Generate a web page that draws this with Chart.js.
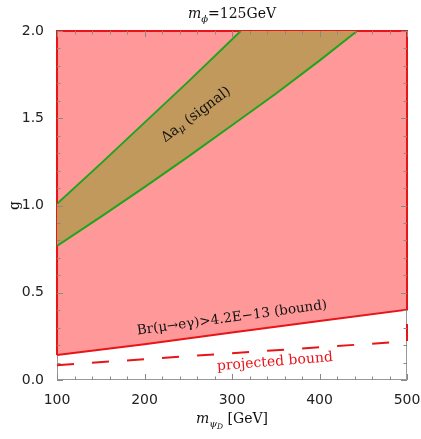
<!DOCTYPE html>
<html><head><meta charset="utf-8">
<script src="https://cdn.jsdelivr.net/npm/chart.js@4"></script>
<style>html,body{margin:0;padding:0;background:#fff}</style>
</head><body>
<canvas id="c" width="421" height="439" style="width:421px;height:439px;display:block"></canvas>
<script>
// ---- data ----
const xTicks = [100, 200, 300, 400, 500];
const yTicks = [0.0, 0.5, 1.0, 1.5, 2.0];
const boundX = [100, 200, 300, 400, 500];
const boundG = [0.143, 0.205, 0.272, 0.338, 0.403];
const projX = [100, 500];
const projG = [0.085, 0.222];
const sigUpX = [100, 150, 200, 250, 310];
const sigUpG = [1.01, 1.24, 1.475, 1.71, 2.0];
const sigLoX = [100, 150, 200, 250, 300, 350, 400, 443];
const sigLoG = [0.768, 0.935, 1.105, 1.28, 1.46, 1.64, 1.83, 2.0];
const xMin = 100, xMax = 500, yMin = 0, yMax = 2;

const RED = 'rgb(232,20,24)';
const PINK = 'rgb(255,153,153)';
const BROWN = 'rgb(194,153,93)';
const GREEN = 'rgb(30,165,30)';
const AXIS = '#999';

const pts = (xs, ys) => xs.map((x, i) => ({x, y: ys[i]}));

const boundPoly = pts(boundX, boundG).concat([{x: xMax, y: yMax}, {x: xMin, y: yMax}, {x: boundX[0], y: boundG[0]}]);
const bandPoly = pts(sigLoX, sigLoG).concat(pts(sigUpX, sigUpG).reverse(), [{x: sigLoX[0], y: sigLoG[0]}]);
const projLine = pts(projX, projG).concat([{x: xMax, y: boundG[boundG.length - 1]}]);

function rich(ctx, parts, x, y, align) {
  let w = 0;
  parts.forEach(p => { ctx.font = p.font; p.w = ctx.measureText(p.t).width; w += p.w; });
  let cx = align === 'center' ? x - w / 2 : x;
  parts.forEach(p => { ctx.font = p.font; ctx.fillText(p.t, cx, y + (p.dy || 0)); cx += p.w; });
}

const SERIF = '"DejaVu Serif", "Liberation Serif", serif';

const decor = {
  id: 'decor',
  beforeDatasetsDraw(chart) {
    const {ctx, chartArea: a} = chart;
    ctx.save();
    ctx.strokeStyle = AXIS; ctx.lineWidth = 1;
    ctx.strokeRect(a.left + 0.5, a.top + 0.5, a.right - a.left - 1, a.bottom - a.top - 1);
    ctx.restore();
  },
  afterDatasetsDraw(chart) {
    const {ctx, chartArea: a, scales: {x, y}} = chart;
    ctx.save();
    ctx.strokeStyle = '#888'; ctx.lineWidth = 1;
    ctx.beginPath();
    for (let v = xMin; v <= xMax + 1e-9; v += 20) {
      const px = Math.round(x.getPixelForValue(v)) + 0.5;
      const L = xTicks.includes(v) ? 6 : 3.5;
      ctx.moveTo(px, a.bottom); ctx.lineTo(px, a.bottom - L);
      ctx.moveTo(px, a.top); ctx.lineTo(px, a.top + L);
    }
    for (let k = 0; k <= 20; k++) {
      const v = k / 10;
      const py = Math.round(y.getPixelForValue(v)) + 0.5;
      const L = (k % 5 === 0) ? 6 : 3.5;
      ctx.moveTo(a.left, py); ctx.lineTo(a.left + L, py);
      ctx.moveTo(a.right, py); ctx.lineTo(a.right - L, py);
    }
    ctx.stroke();

    ctx.fillStyle = '#111';
    ctx.textBaseline = 'alphabetic';
    const cx = (a.left + a.right) / 2;
    rich(ctx, [
      {t: 'm', font: 'italic 14px ' + SERIF},
      {t: 'ϕ', font: 'italic 10px ' + SERIF, dy: 4},
      {t: '=125GeV', font: '14px ' + SERIF}
    ], cx, 17.5, 'center');
    rich(ctx, [
      {t: 'm', font: 'italic 14px ' + SERIF},
      {t: 'ψ', font: 'italic 10px ' + SERIF, dy: 3.5},
      {t: 'D', font: 'italic 7.5px ' + SERIF, dy: 6},
      {t: ' [GeV]', font: '14px ' + SERIF}
    ], cx, 423, 'center');
    ctx.save();
    ctx.translate(17, (a.top + a.bottom) / 2);
    ctx.rotate(-Math.PI / 2);
    ctx.textBaseline = 'middle';
    rich(ctx, [{t: 'g', font: '14px ' + SERIF}], 0, -2, 'center');
    ctx.restore();

    const ann = (gx, gy, deg, parts, color) => {
      ctx.save();
      ctx.translate(x.getPixelForValue(gx), y.getPixelForValue(gy));
      ctx.rotate(deg * Math.PI / 180);
      ctx.textBaseline = 'middle';
      ctx.fillStyle = color;
      rich(ctx, parts, 0, 0, 'center');
      ctx.restore();
    };
    ann(259, 1.52, -37, [
      {t: 'Δa', font: '14px ' + SERIF},
      {t: 'μ', font: 'italic 10px ' + SERIF, dy: 3},
      {t: ' (signal)', font: '14px ' + SERIF}
    ], '#111');
    ann(300, 0.355, -7.8, [{t: 'Br(μ→eγ)>4.2E−13 (bound)', font: '13.5px ' + SERIF}], '#111');
    ann(349, 0.103, -4.5, [{t: 'projected bound', font: '14px ' + SERIF}], RED);
    ctx.restore();
  }
};

new Chart(document.getElementById('c'), {
  type: 'scatter',
  data: {
    datasets: [
      {data: projLine, showLine: true, borderColor: RED, borderWidth: 2, borderDash: [17, 18.1],
       pointRadius: 0, fill: false, clip: 3, order: 0},
      {data: pts(sigUpX, sigUpG), showLine: true, borderColor: GREEN, borderWidth: 2, pointRadius: 0, fill: false, order: 1},
      {data: pts(sigLoX, sigLoG), showLine: true, borderColor: GREEN, borderWidth: 2, pointRadius: 0, fill: false, order: 2},
      {data: bandPoly, showLine: true, borderWidth: 0, borderColor: 'rgba(0,0,0,0)', backgroundColor: BROWN,
       pointRadius: 0, fill: 'shape', order: 3},
      {data: boundPoly, showLine: true, borderColor: RED, borderWidth: 2, backgroundColor: PINK,
       pointRadius: 0, fill: 'shape', clip: 3, order: 4}
    ]
  },
  options: {
    responsive: false,
    animation: false,
    devicePixelRatio: 1,
    layout: {padding: {left: 0, top: 31, right: 14, bottom: 0}},
    plugins: {legend: {display: false}, tooltip: {enabled: false}, title: {display: false}},
    elements: {line: {tension: 0}},
    scales: {
      x: {
        type: 'linear', min: xMin, max: xMax,
        afterBuildTicks: s => { s.ticks = xTicks.map(v => ({value: v})); },
        afterFit: s => { s.height = 59; s.paddingLeft = 0; s.paddingRight = 0; },
        grid: {display: false}, border: {display: false},
        ticks: {font: {family: '"DejaVu Sans", sans-serif', size: 14}, color: '#222', padding: 4, maxRotation: 0}
      },
      y: {
        type: 'linear', min: yMin, max: yMax,
        afterBuildTicks: s => { s.ticks = yTicks.map(v => ({value: v})); },
        afterFit: s => { s.width = 57; s.paddingTop = 0; s.paddingBottom = 0; },
        grid: {display: false}, border: {display: false},
        ticks: {font: {family: '"DejaVu Sans", sans-serif', size: 14}, color: '#222', padding: 5,
                callback: v => Number(v).toFixed(1)}
      }
    }
  },
  plugins: [decor]
});
</script>
</body></html>
